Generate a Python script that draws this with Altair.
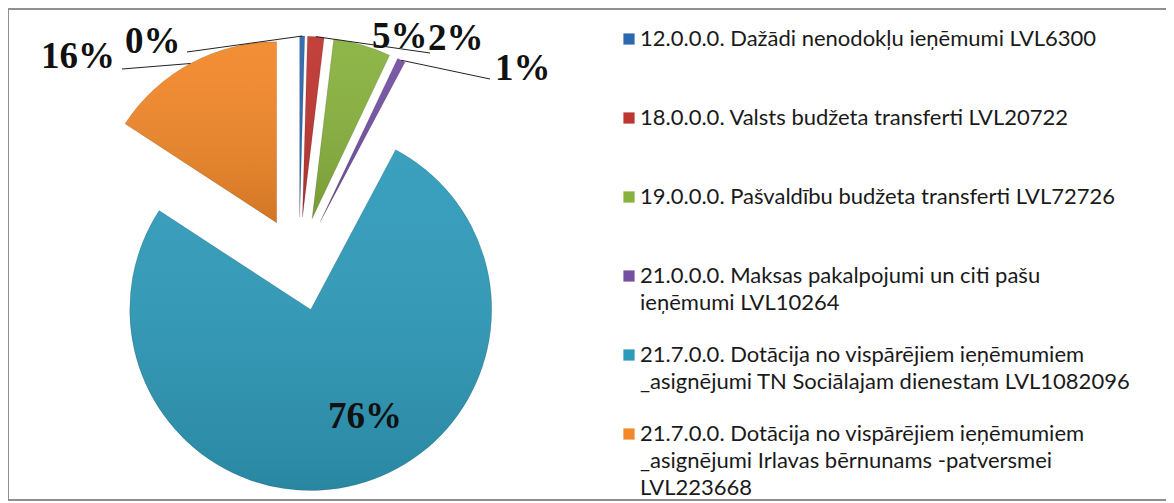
import altair as alt
import pandas as pd

# ---------------- data ----------------
codes = ["12.0.0.0.", "18.0.0.0.", "19.0.0.0.", "21.0.0.0.", "21.7.0.0.", "21.7.0.0."]
values = [6300, 20722, 72726, 10264, 1082096, 223668]
pct_labels = ["0%", "2%", "5%", "1%", "76%", "16%"]
legend_lines = [
    ["12.0.0.0. Dažādi nenodokļu ieņēmumi LVL6300"],
    ["18.0.0.0. Valsts budžeta transferti LVL20722"],
    ["19.0.0.0. Pašvaldību budžeta transferti LVL72726"],
    ["21.0.0.0. Maksas pakalpojumi un citi pašu", "ieņēmumi LVL10264"],
    ["21.7.0.0. Dotācija no vispārējiem ieņēmumiem", "_asignējumi TN Sociālajam dienestam LVL1082096"],
    ["21.7.0.0. Dotācija no vispārējiem ieņēmumiem", "_asignējumi Irlavas bērnunams -patversmei", "LVL223668"],
]

# ---------------- styling / layout ----------------
colors = ["#2C68AE", "#BE3631", "#88B23E", "#7450A2", "#2F9BBA", "#F2882A"]
W, H = 1158, 493
CX, CY = 291, 256          # pie centre (px)
EXPLODE = 47               # explosion distance (px)
R = 181                    # pie radius (px)
# label placement (left x, baseline y) and leader-line end points (px)
label_x = [117, 420, 364, 487, 320, 33]
label_y = [45, 42, 40, 72, 420, 60]
lead_x = [179, 422, None, 482, None, 114]
lead_y = [44, 45, None, 71, None, 61]
LEG_X, LEG_Y0, LEG_STEP, LEG_LINE = 621, 31, 79, 27

pie_df = pd.DataFrame({
    "idx": list(range(len(values))),
    "value": values,
    "label": pct_labels,
    "color": colors,
    "lx": label_x,
    "ly": label_y,
    "ex": lead_x,
    "ey": lead_y,
})

base = alt.Chart(pie_df).transform_joinaggregate(
    total="sum(value)"
).transform_window(
    cum="sum(value)", sort=[alt.SortField("idx")], frame=[None, 0]
).transform_calculate(
    start="2*PI*(datum.cum - datum.value)/datum.total",
    end="2*PI*datum.cum/datum.total",
).transform_calculate(
    mid="(datum.start + datum.end)/2",
).transform_calculate(
    cx=f"{CX} + {EXPLODE}*sin(datum.mid)",
    cy=f"{CY} - {EXPLODE}*cos(datum.mid)",
).transform_calculate(
    sx=f"datum.cx + {R}*sin(datum.mid)",
    sy=f"datum.cy - {R}*cos(datum.mid)",
)

arcs = base.mark_arc(radius=R, stroke=None).encode(
    theta=alt.Theta("start:Q", scale=None),
    theta2="end:Q",
    x=alt.X("cx:Q", scale=None),
    y=alt.Y("cy:Q", scale=None),
    color=alt.Color("color:N", scale=None),
)

shade = base.mark_arc(
    radius=R,
    stroke="rgba(0,0,0,0.12)",
    strokeWidth=1,
    fill={
        "gradient": "linear",
        "x1": 0, "y1": 0, "x2": 0, "y2": 1,
        "stops": [
            {"offset": 0, "color": "rgba(255,255,255,0.05)"},
            {"offset": 1, "color": "rgba(0,0,0,0.13)"},
        ],
    },
).encode(
    theta=alt.Theta("start:Q", scale=None),
    theta2="end:Q",
    x=alt.X("cx:Q", scale=None),
    y=alt.Y("cy:Q", scale=None),
)

leaders = base.transform_filter("datum.ex != null").mark_rule(
    color="#222222", strokeWidth=1
).encode(
    x=alt.X("sx:Q", scale=None),
    y=alt.Y("sy:Q", scale=None),
    x2="ex:Q",
    y2="ey:Q",
)

labels = alt.Chart(pie_df).mark_text(
    font="Liberation Serif", fontWeight="bold", fontSize=37,
    align="left", baseline="alphabetic", color="#111111",
).encode(
    x=alt.X("lx:Q", scale=None),
    y=alt.Y("ly:Q", scale=None),
    text="label:N",
)

# legend
leg_rows = []
for i, lines in enumerate(legend_lines):
    for j, t in enumerate(lines):
        leg_rows.append({"item": i, "line": j, "text": t, "color": colors[i]})
leg_df = pd.DataFrame(leg_rows)

leg_base = alt.Chart(leg_df).transform_calculate(
    ly=f"{LEG_Y0} + {LEG_STEP}*datum.item + {LEG_LINE}*datum.line"
)
leg_sq = leg_base.transform_filter("datum.line == 0").mark_square(
    size=140, opacity=1, stroke="#ffffff", strokeWidth=0.6
).encode(
    x=alt.value(LEG_X),
    y=alt.Y("ly:Q", scale=None),
    color=alt.Color("color:N", scale=None),
)
leg_txt = leg_base.mark_text(
    font="Lato", fontSize=22, align="left", baseline="middle", color="#1a1a1a"
).encode(
    x=alt.value(LEG_X + 11),
    y=alt.Y("ly:Q", scale=None),
    text="text:N",
)

# frame (top, left, bottom)
frame_df = pd.DataFrame({"k": [0]})
fr = alt.Chart(frame_df)
top = fr.mark_rule(color="#8f8f8f", strokeWidth=2).encode(
    x=alt.value(0), x2=alt.value(W), y=alt.value(1))
left = fr.mark_rule(color="#8f8f8f", strokeWidth=2).encode(
    x=alt.value(0), y=alt.value(0), y2=alt.value(H))
bottom = fr.mark_rule(color="#8f8f8f", strokeWidth=2).encode(
    x=alt.value(0), x2=alt.value(W), y=alt.value(H - 1))

chart = alt.layer(
    arcs, shade, leaders, labels, leg_sq, leg_txt, top, left, bottom
).properties(
    width=W, height=H,
    autosize=alt.AutoSizeParams(type="none"),
    padding=0,
    background="#ffffff",
).configure_view(strokeWidth=0)

chart.save("out.html", embed_options={"renderer": "svg", "actions": False})
